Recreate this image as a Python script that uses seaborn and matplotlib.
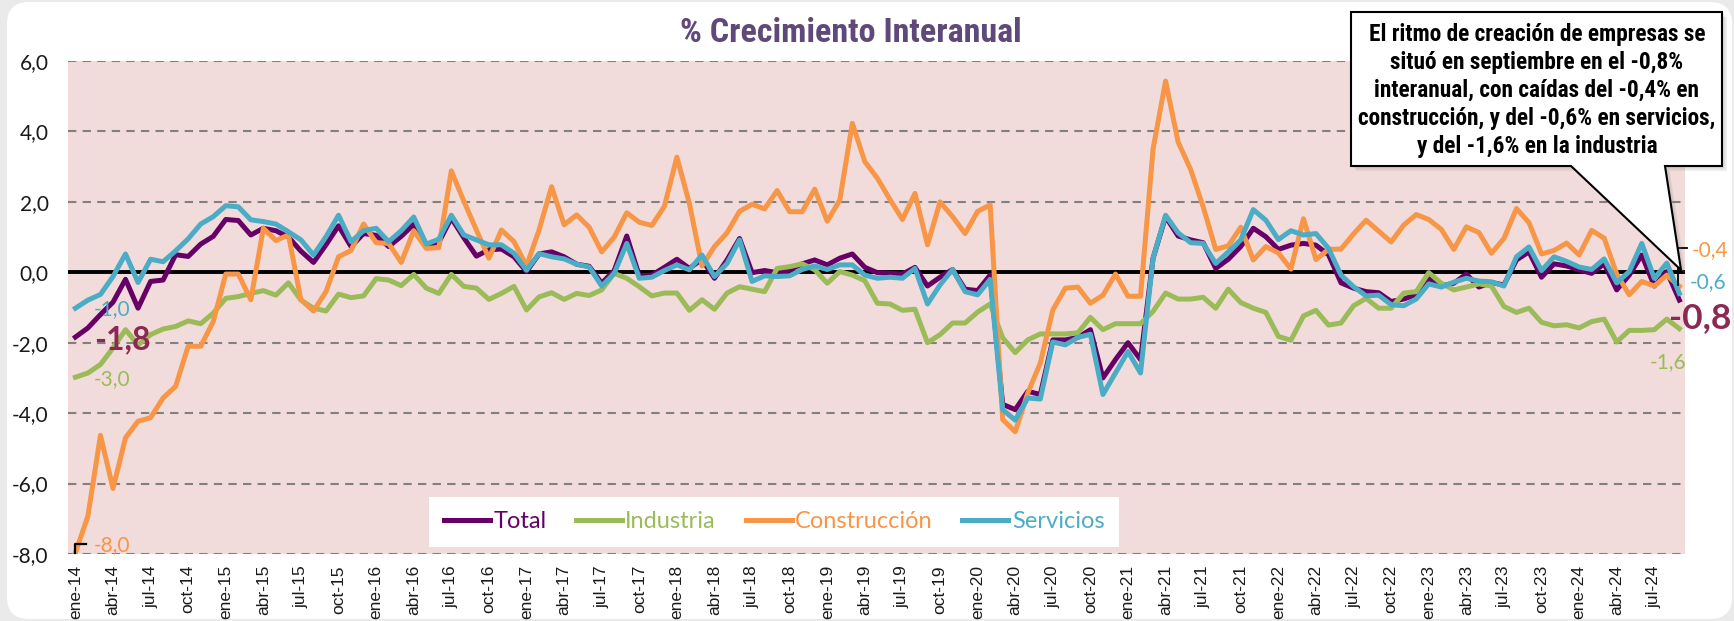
import os
import numpy as np
import pandas as pd
import matplotlib
matplotlib.use("Agg")
import matplotlib.pyplot as plt
import seaborn as sns
from matplotlib import font_manager as fm
from matplotlib.font_manager import FontProperties
from matplotlib.patches import FancyBboxPatch, Polygon
from matplotlib.lines import Line2D

# --- datos (% crecimiento interanual, ene-14 a sep-24) ---
meses = ["ene", "feb", "mar", "abr", "may", "jun", "jul", "ago", "sep", "oct", "nov", "dic"]
anios = list(range(14, 25))
fechas = [f"{m}-{a}" for a in anios for m in meses][:129]

total = [
    -1.84, -1.58, -1.20, -0.85, -0.20, -1.02, -0.26, -0.22, 0.50, 0.45, 0.80, 1.02,
    1.50, 1.47, 1.06, 1.25, 1.18, 1.00, 0.60, 0.28, 0.78, 1.32, 0.73, 1.10,
    1.05, 0.73, 1.02, 1.36, 0.78, 0.85, 1.54, 0.98, 0.46, 0.64, 0.66, 0.44,
    0.02, 0.52, 0.58, 0.44, 0.23, 0.17, -0.31, 0.05, 1.03, -0.10, -0.08, 0.14,
    0.37, 0.11, 0.37, -0.17, 0.35, 0.96, -0.01, 0.05, -0.01, 0.07, 0.24, 0.35,
    0.21, 0.40, 0.52, 0.14, -0.01, -0.03, -0.05, 0.14, -0.39, -0.14, 0.08, -0.48,
    -0.52, -0.08, -3.75, -3.90, -3.38, -3.47, -1.92, -1.92, -1.85, -1.63, -3.00, -2.48,
    -2.00, -2.48, 0.40, 1.58, 1.03, 0.92, 0.84, 0.11, 0.37, 0.73, 1.25, 1.01,
    0.65, 0.77, 0.82, 0.77, 0.50, -0.30, -0.45, -0.55, -0.58, -0.83, -0.76, -0.64,
    -0.17, -0.39, -0.31, -0.05, -0.42, -0.29, -0.36, 0.35, 0.58, -0.14, 0.24, 0.18,
    0.07, -0.03, 0.24, -0.50, -0.08, 0.49, -0.39, 0.02, -0.79,
]
industria = [
    -2.98, -2.86, -2.62, -2.15, -1.63, -2.06, -1.77, -1.61, -1.54, -1.38, -1.46, -1.16,
    -0.74, -0.69, -0.60, -0.52, -0.65, -0.30, -0.79, -1.02, -1.10, -0.62, -0.72, -0.67,
    -0.18, -0.22, -0.38, -0.06, -0.45, -0.60, -0.06, -0.40, -0.45, -0.77, -0.60, -0.40,
    -1.07, -0.70, -0.58, -0.77, -0.60, -0.66, -0.50, -0.03, -0.17, -0.41, -0.67, -0.59,
    -0.59, -1.08, -0.78, -1.05, -0.59, -0.41, -0.48, -0.55, 0.11, 0.16, 0.24, 0.07,
    -0.31, 0.02, -0.08, -0.24, -0.88, -0.90, -1.08, -1.05, -2.00, -1.77, -1.44, -1.44,
    -1.13, -0.90, -1.86, -2.28, -1.92, -1.75, -1.75, -1.75, -1.72, -1.28, -1.63, -1.46,
    -1.46, -1.46, -1.11, -0.59, -0.76, -0.76, -0.71, -1.02, -0.48, -0.86, -1.02, -1.14,
    -1.82, -1.93, -1.24, -1.08, -1.50, -1.44, -0.95, -0.74, -1.02, -1.02, -0.59, -0.55,
    -0.01, -0.31, -0.50, -0.42, -0.33, -0.39, -0.97, -1.14, -1.02, -1.42, -1.52, -1.49,
    -1.58, -1.40, -1.33, -1.98, -1.65, -1.65, -1.63, -1.33, -1.60,
]
construccion = [
    -7.97, -6.92, -4.63, -6.14, -4.70, -4.23, -4.13, -3.57, -3.24, -2.10, -2.10, -1.40,
    -0.05, -0.05, -0.78, 1.25, 0.90, 1.06, -0.78, -1.10, -0.55, 0.44, 0.62, 1.37,
    0.84, 0.82, 0.28, 1.18, 0.68, 0.70, 2.88, 2.02, 1.20, 0.40, 1.20, 0.87,
    0.18, 1.20, 2.43, 1.35, 1.63, 1.28, 0.58, 1.00, 1.69, 1.42, 1.33, 1.87,
    3.27, 1.95, 0.18, 0.73, 1.12, 1.73, 1.93, 1.80, 2.32, 1.72, 1.72, 2.36,
    1.45, 2.05, 4.23, 3.14, 2.67, 2.07, 1.50, 2.24, 0.78, 2.00, 1.58, 1.10,
    1.73, 1.91, -4.18, -4.53, -3.43, -2.58, -1.07, -0.45, -0.42, -0.88, -0.65, -0.05,
    -0.68, -0.68, 3.50, 5.43, 3.70, 2.92, 1.86, 0.65, 0.75, 1.28, 0.35, 0.73,
    0.55, 0.09, 1.52, 0.36, 0.65, 0.66, 1.09, 1.48, 1.17, 0.86, 1.34, 1.64,
    1.50, 1.22, 0.65, 1.29, 1.13, 0.54, 0.96, 1.81, 1.41, 0.52, 0.62, 0.83,
    0.49, 1.19, 0.97, -0.05, -0.64, -0.26, -0.39, -0.08, -0.40,
]
servicios = [
    -1.02, -0.79, -0.63, -0.12, 0.52, -0.29, 0.37, 0.30, 0.61, 0.95, 1.37, 1.58,
    1.89, 1.86, 1.49, 1.44, 1.37, 1.15, 0.92, 0.49, 1.01, 1.62, 0.87, 1.18,
    1.25, 0.87, 1.18, 1.57, 0.80, 0.94, 1.62, 1.06, 0.92, 0.78, 0.78, 0.54,
    0.06, 0.53, 0.44, 0.38, 0.23, 0.15, -0.39, -0.03, 0.82, -0.17, -0.14, 0.05,
    0.21, 0.07, 0.49, -0.12, 0.25, 0.92, -0.26, -0.10, -0.12, -0.10, 0.08, 0.18,
    0.08, 0.21, 0.21, -0.08, -0.17, -0.14, -0.17, 0.11, -0.90, -0.36, 0.08, -0.55,
    -0.64, -0.20, -3.90, -4.20, -3.57, -3.60, -1.98, -2.06, -1.85, -1.76, -3.47, -2.86,
    -2.25, -2.86, 0.40, 1.62, 1.12, 0.84, 0.82, 0.25, 0.58, 0.92, 1.78, 1.48,
    0.93, 1.18, 1.06, 1.10, 0.68, -0.08, -0.41, -0.67, -0.65, -0.92, -0.95, -0.76,
    -0.33, -0.42, -0.28, -0.17, -0.25, -0.27, -0.39, 0.44, 0.72, 0.05, 0.44, 0.31,
    0.15, 0.08, 0.38, -0.30, 0.02, 0.82, -0.17, 0.26, -0.60,
]

series = ["Total", "Industria", "Construcción", "Servicios"]
colores = ["#660066", "#9BBB59", "#F79646", "#4BACC6"]
valores = [total, industria, construccion, servicios]

titulo = "% Crecimiento Interanual"
nota = ["El ritmo de creación de empresas se",
        "situó en septiembre en el -0,8%",
        "interanual, con caídas del -0,4% en",
        "construcción, y del -0,6% en servicios,",
        "y del -1,6% en la industria"]

CALIBRI = ["Lato", "DejaVu Sans"]


def fmt(v):
    return f"{v:.1f}".replace(".", ",")


def fuente_estrecha():
    # busca una negrita estrecha/condensada instalada
    evitar = ["italic", "oblique", "semi", "extra", "light", "black", "medium", "thin"]
    cands = []
    for f in fm.fontManager.ttflist:
        b = os.path.basename(f.fname).lower()
        if ("narrow" in b or "condensed" in b) and "bold" in b and not any(e in b for e in evitar):
            cands.append(f.fname)
    for pref in ["liberation", "arial", "roboto", "noto", "opensans", "dejavu"]:
        for c in cands:
            if pref in os.path.basename(c).lower():
                return FontProperties(fname=c)
    if cands:
        return FontProperties(fname=cands[0])
    return FontProperties(family=["Liberation Sans", "DejaVu Sans"], weight="bold")


filas = []
for nombre, vals in zip(series, valores):
    for i, v in enumerate(vals):
        filas.append({"pos": i, "fecha": fechas[i], "valor": v, "serie": nombre})
df = pd.DataFrame(filas)

W, H = 1734, 621
fig = plt.figure(figsize=(W / 100, H / 100), dpi=100)
fig.patch.set_facecolor("#EAEAEA")

# fondo con panel blanco redondeado
ax_bg = fig.add_axes([0, 0, 1, 1], zorder=-2)
ax_bg.set_xlim(0, W)
ax_bg.set_ylim(H, 0)
ax_bg.axis("off")
ax_bg.add_patch(FancyBboxPatch((7, 2), 1725, 617, boxstyle="round,pad=0,rounding_size=22",
                               fc="white", ec="none"))

# eje principal
ax = fig.add_axes([68 / W, (H - 554) / H, (1685 - 68) / W, (554 - 61) / H], zorder=1)
ax.set_facecolor("#F2DCDB")
ax.set_axisbelow(True)

sns.lineplot(data=df, x="pos", y="valor", hue="serie", hue_order=series,
             palette=colores, linewidth=3.6, ax=ax, legend=False, zorder=3)
ax.axhline(0, color="black", linewidth=2.8, zorder=2)

ax.set_xlim(-0.59, 128.45)
ax.set_ylim(-8, 6)
yt = list(range(-8, 7, 2))
ax.set_yticks(yt)
ax.set_yticklabels([fmt(v) for v in yt], fontsize=15, family=CALIBRI, color="#1a1a1a")
xt = list(range(0, len(fechas), 3))
ax.set_xticks(xt)
ax.set_xticklabels([fechas[i] for i in xt], rotation=90, fontsize=12.5,
                   family=["Liberation Sans", "DejaVu Sans"], color="#1a1a1a")
ax.tick_params(axis="x", length=0, pad=8)
ax.tick_params(axis="y", length=0, pad=14)
ax.yaxis.grid(True, color="#808080", linestyle=(0, (4, 3)), linewidth=1.5)
ax.xaxis.grid(False)
for s in ax.spines.values():
    s.set_visible(False)
ax.set_xlabel("")
ax.set_ylabel("")

# etiquetas de inicio y fin
ini_pos = {"Servicios": -1.04, "Total": -1.93, "Industria": -3.04, "Construcción": -7.74}
fin_pos = {"Construcción": (129.0, 0.63), "Servicios": (128.85, -0.28),
           "Total": (127.15, -1.31), "Industria": (125.6, -2.55)}
for nombre, vals, c in zip(series, valores, colores):
    es_total = nombre == "Total"
    col = "#8C2852" if es_total else c
    ax.text(1.5, ini_pos[nombre], fmt(vals[0]), color=col, ha="left", va="center",
            fontsize=23 if es_total else 15, fontweight="bold" if es_total else "normal",
            family=CALIBRI, zorder=6)
    fx, fy = fin_pos[nombre]
    ax.text(fx, fy, fmt(vals[-1]), color=col, ha="left", va="center",
            fontsize=25.5 if es_total else 15, fontweight="bold" if es_total else "normal",
            family=CALIBRI, zorder=6, clip_on=False)

# lineas guia de etiquetas
ax.plot([0.0, 0.0, 0.85], [-7.98, -7.72, -7.72], color="black", lw=1.6, zorder=6, clip_on=False)
ax.plot([127.9, 127.9, 128.6], [-0.36, 0.69, 0.69], color="black", lw=1.3, zorder=6, clip_on=False)

# leyenda
handles = [Line2D([0], [0], color=c, linewidth=3.6) for c in colores]
leg = ax.legend(handles, series, loc="center", bbox_to_anchor=(774 / W, 1 - 522 / H),
                bbox_transform=fig.transFigure, ncol=4, frameon=True, fancybox=False,
                handlelength=1.95, handletextpad=0.15, columnspacing=1.25, borderpad=0.62,
                prop={"family": CALIBRI, "size": 17})
leg.get_frame().set_facecolor("white")
leg.get_frame().set_edgecolor("none")
leg.get_frame().set_alpha(1)
for t, c in zip(leg.get_texts(), colores):
    t.set_color(c)

# capa superior: titulo y nota
ax_top = fig.add_axes([0, 0, 1, 1], zorder=3)
ax_top.set_xlim(0, W)
ax_top.set_ylim(H, 0)
ax_top.axis("off")
ax_top.patch.set_visible(False)

fp = fuente_estrecha()
t_tit = ax_top.text(851, 33, titulo, ha="center", va="center", color="#5F497A",
                    fontproperties=fp, fontsize=24)

forma = [(1351, 12), (1722, 12), (1722, 166), (1665, 166), (1681, 270), (1571, 166), (1351, 166)]
for k, a in enumerate([0.10, 0.10, 0.12]):
    d = 2 + k * 1.5
    ax_top.add_patch(Polygon([(x + d, y + d) for x, y in forma], closed=True,
                             fc="#7f7f7f", ec="none", alpha=a))
ax_top.add_patch(Polygon(forma, closed=True, fc="white", ec="black", lw=1.5))
t_nota = []
for k, linea in enumerate(nota):
    t_nota.append(ax_top.text(1537, 34 + 28 * k, linea, ha="center", va="center",
                              color="black", fontproperties=fp, fontsize=17))

# ajustar tamanos al ancho del original
rend = fig.canvas.get_renderer()
w = t_tit.get_window_extent(rend).width
t_tit.set_fontsize(24 * 343 / w)
wmax = max(t.get_window_extent(rend).width for t in t_nota)
for t in t_nota:
    t.set_fontsize(17 * 358 / wmax)

fig.savefig("out.png", dpi=100)
plt.close(fig)
